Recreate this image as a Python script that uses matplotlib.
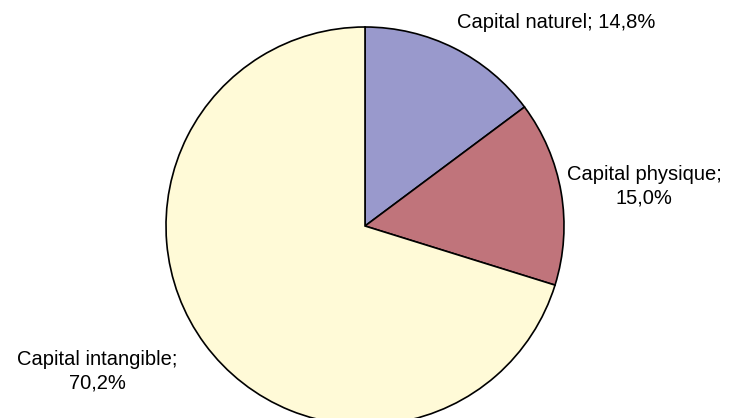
import matplotlib.pyplot as plt

# data
categories = ['Capital naturel', 'Capital physique', 'Capital intangible']
values = [14.8, 15.0, 70.2]
colors = ['#9999cc', '#c0747b', '#fffad7']

plt.rcParams['font.family'] = ['Liberation Sans', 'DejaVu Sans']

fig = plt.figure(figsize=(7.5, 4.18), dpi=100)
ax = fig.add_axes([0, 0, 1, 1])
ax.set_xlim(0, 750)
ax.set_ylim(0, 418)
ax.set_aspect('equal')
ax.axis('off')

ax.pie(values, colors=colors, startangle=90, counterclock=False,
       center=(365, 192), radius=199,
       wedgeprops=dict(edgecolor='black', linewidth=1.2))
ax.set_xlim(0, 750)
ax.set_ylim(0, 418)

def fmt(v):
    return f'{v:.1f}%'.replace('.', ',')

# labels
ax.text(556, 396, f'{categories[0]}; {fmt(values[0])}', ha='center', va='center', fontsize=14.5)
ax.text(644, 232, f'{categories[1]};\n{fmt(values[1])}', ha='center', va='center', fontsize=14.5, linespacing=1.3)
ax.text(97, 47, f'{categories[2]};\n{fmt(values[2])}', ha='center', va='center', fontsize=14.5, linespacing=1.3)

plt.savefig('out.png', dpi=100)
